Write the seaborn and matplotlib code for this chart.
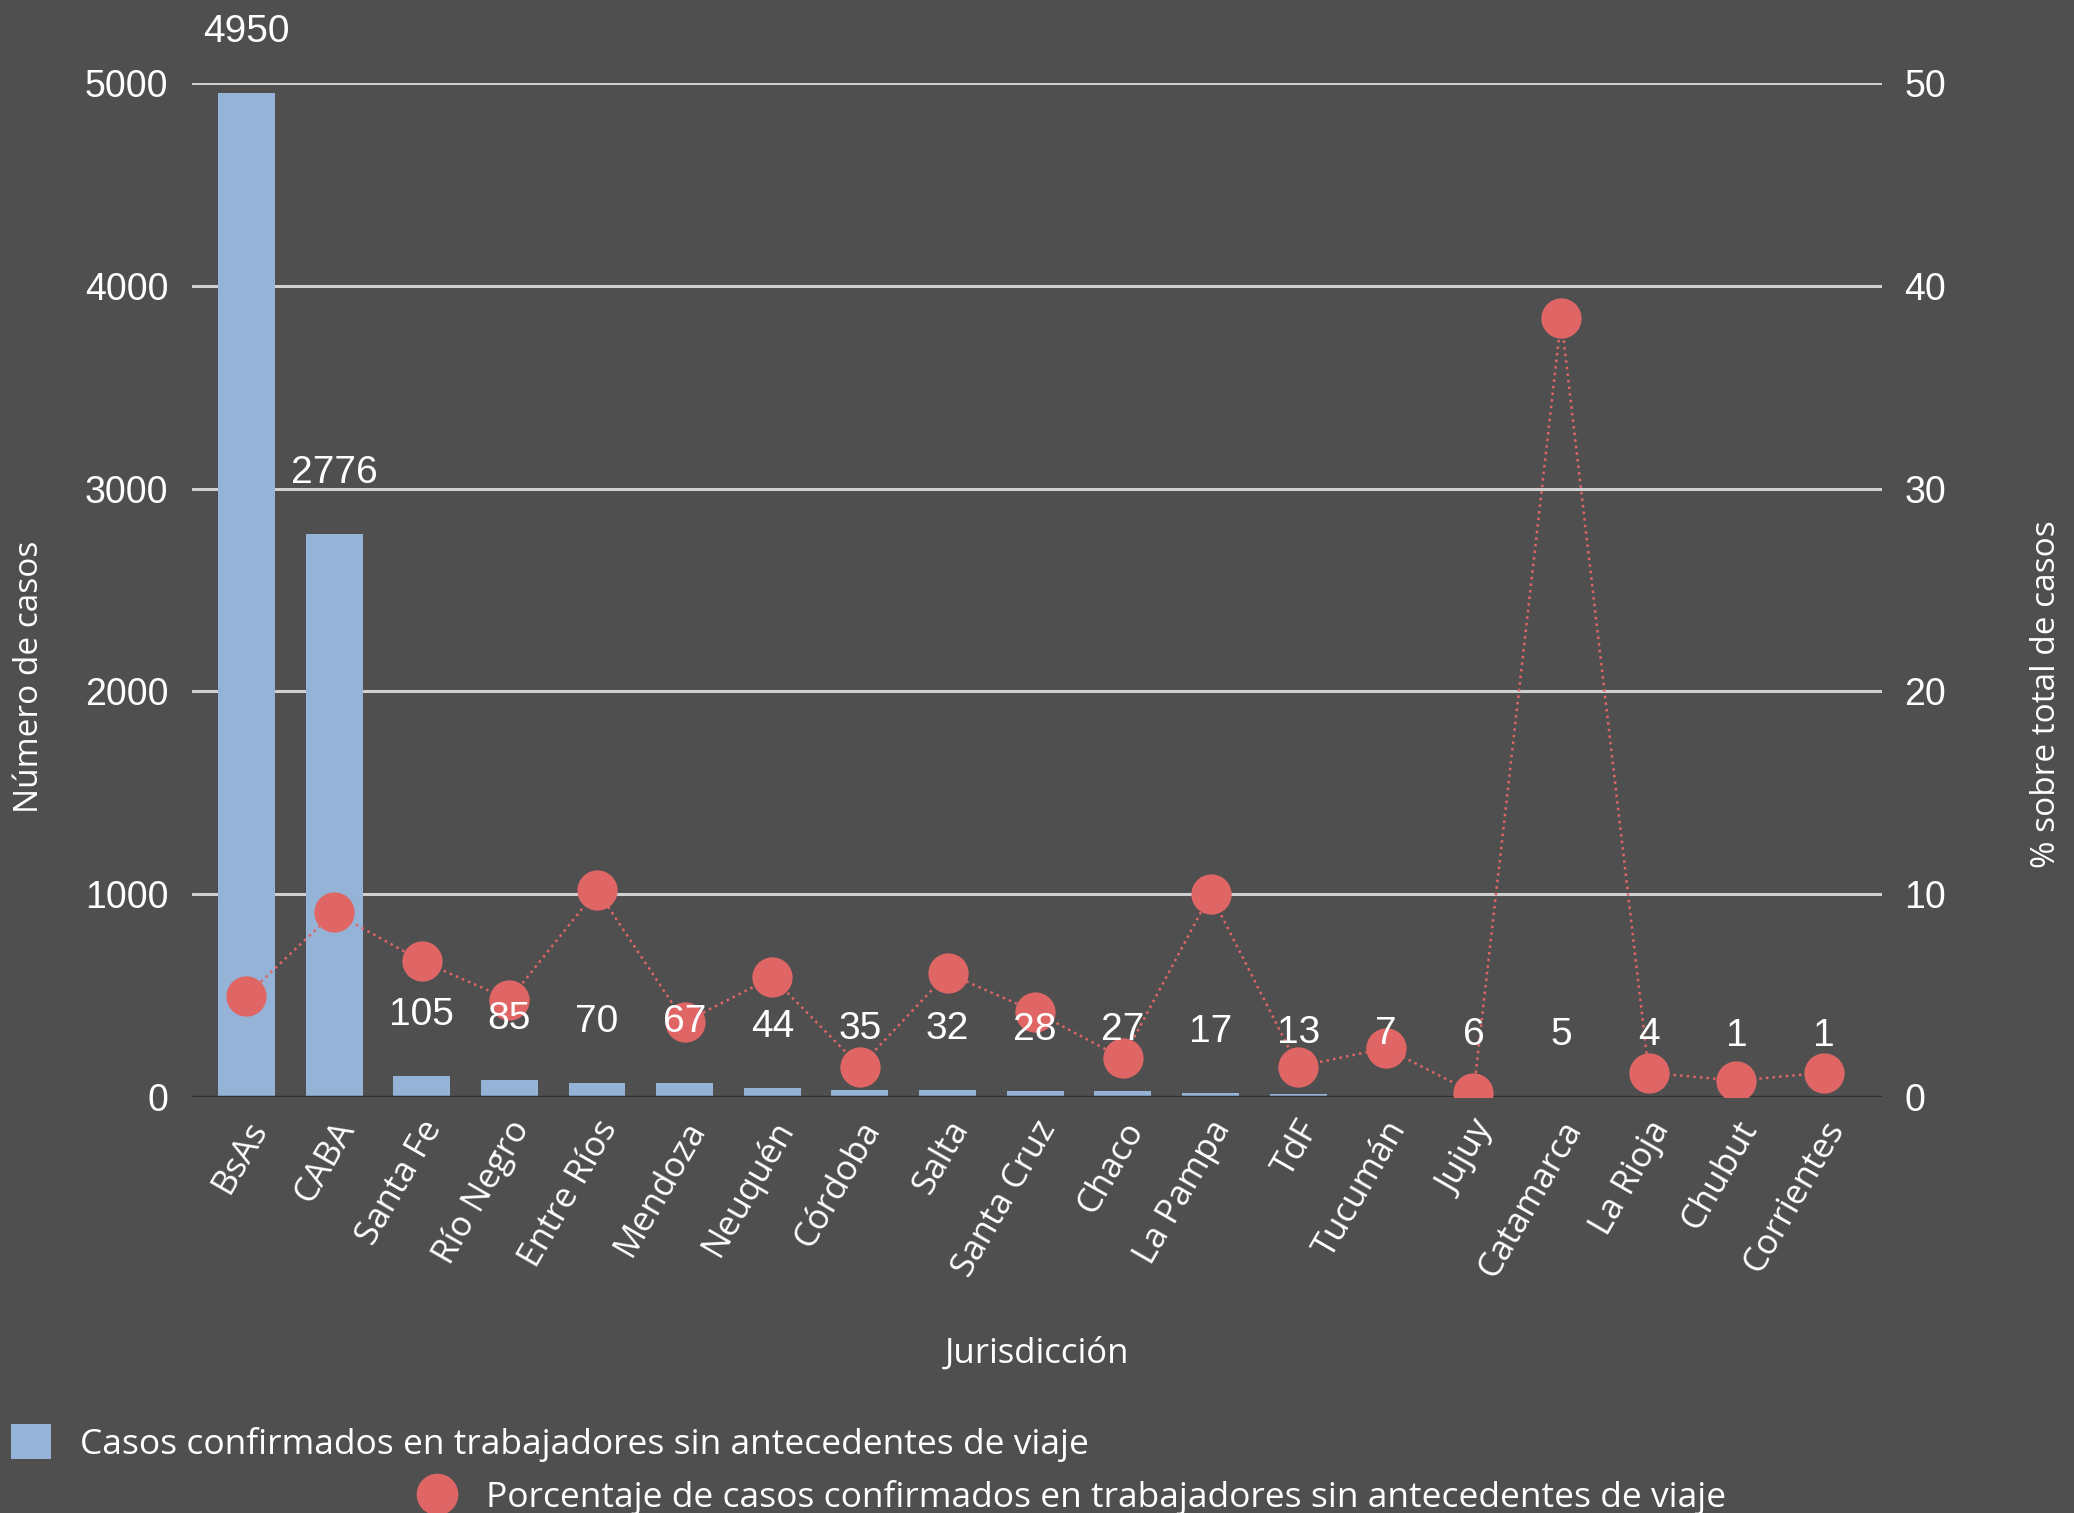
import numpy as np
import pandas as pd
import matplotlib
matplotlib.use("Agg")
import matplotlib.pyplot as plt
import matplotlib.transforms as mtrans
import seaborn as sns
from matplotlib.lines import Line2D
from matplotlib.patches import Patch

# -------------------------------------------------------------------
# Data
# -------------------------------------------------------------------
jurisdicciones = ["BsAs", "CABA", "Santa Fe", "Río Negro", "Entre Ríos", "Mendoza",
                  "Neuquén", "Córdoba", "Salta", "Santa Cruz", "Chaco", "La Pampa",
                  "TdF", "Tucumán", "Jujuy", "Catamarca", "La Rioja", "Chubut",
                  "Corrientes"]
casos = [4950, 2776, 105, 85, 70, 67, 44, 35, 32, 28, 27, 17, 13, 7, 6, 5, 4, 1, 1]
porcentaje = [5.0, 9.1, 6.7, 4.8, 10.2, 3.7, 5.9, 1.5, 6.1, 4.2, 1.9, 10.0,
              1.5, 2.4, 0.2, 38.4, 1.2, 0.8, 1.2]

df = pd.DataFrame({"jur": jurisdicciones, "casos": casos, "pct": porcentaje})
df["pos"] = np.arange(len(df))

BG = "#4f4f4f"
BLUE = "#95b3d7"
RED = "#e06666"
TXT = "white"

sns.set_style("dark")
plt.rcParams["font.family"] = ["Open Sans", "DejaVu Sans"]

fig = plt.figure(figsize=(20.74, 15.13), dpi=100, facecolor=BG)
ax = fig.add_axes([0.0926, 0.275, 0.8148, 0.67])
ax.set_facecolor(BG)

# -------------------------------------------------------------------
# Bars
# -------------------------------------------------------------------
sns.barplot(data=df, x="jur", y="casos", color=BLUE, width=0.65,
            saturation=1, ax=ax, zorder=2, edgecolor="none", linewidth=0)
ax.set_ylim(0, 5000)
ax.set_xlim(-0.62, 18.66)
ax.set_yticks([0, 1000, 2000, 3000, 4000, 5000])
ax.yaxis.grid(True, color="#d0d0d0", linewidth=2.2, zorder=0)
ax.xaxis.grid(False)
ax.axhline(0, color="#2e2e2e", linewidth=2.5, zorder=3)
for s in ax.spines.values():
    s.set_visible(False)

ax.tick_params(axis="y", length=0, pad=17, labelsize=27, labelcolor=TXT)
ax.tick_params(axis="x", length=0, pad=14, labelcolor=TXT)
for lbl in ax.get_yticklabels():
    lbl.set_family("Liberation Sans")
ax.set_xticks(df["pos"])
ax.set_xticklabels(jurisdicciones, rotation=60, ha="right", va="center",
                   rotation_mode="anchor", fontsize=25, color=TXT)
# nudge rotated labels a bit right/down
shift = mtrans.ScaledTranslation(0.13, -0.07, fig.dpi_scale_trans)
for lbl in ax.get_xticklabels():
    lbl.set_transform(lbl.get_transform() + shift)

ax.set_xlabel("Jurisdicción", fontsize=25, color=TXT)
ax.xaxis.set_label_coords(0.5, -0.236)
ax.set_ylabel("Número de casos", fontsize=24, color=TXT)
ax.yaxis.set_label_coords(-0.0864, 0.414)

# -------------------------------------------------------------------
# Percentage line on twin axis
# -------------------------------------------------------------------
ax2 = ax.twinx()
sns.lineplot(data=df, x="pos", y="pct", color=RED, linestyle=":", linewidth=1.8,
             marker="o", markersize=29, markeredgewidth=0, ax=ax2, zorder=4)
ax2.set_ylim(0, 50)
ax2.set_xlim(-0.62, 18.66)
ax2.set_yticks([0, 10, 20, 30, 40, 50])
ax2.grid(False)
for s in ax2.spines.values():
    s.set_visible(False)
ax2.tick_params(axis="y", length=0, pad=16, labelsize=27, labelcolor=TXT)
for lbl in ax2.get_yticklabels():
    lbl.set_family("Liberation Sans")
ax2.set_ylabel("% sobre total de casos", fontsize=24, color=TXT)
ax2.yaxis.set_label_coords(1.0876, 0.397)
ax2.set_xlabel("")

# value labels above bars
for i, v in enumerate(casos):
    ax2.annotate(str(v), xy=(i, v), xycoords=ax.transData, xytext=(0, 44),
                 textcoords="offset points", ha="center", va="center",
                 fontsize=28, color=TXT, family="Liberation Sans", zorder=6)

# -------------------------------------------------------------------
# Legend
# -------------------------------------------------------------------
h_bar = Patch(facecolor=BLUE, edgecolor="none")
h_pt = Line2D([], [], color=RED, marker="o", linestyle="none", markersize=29)
leg1 = fig.legend([h_bar], ["Casos confirmados en trabajadores sin antecedentes de viaje"],
                  loc="center left", bbox_to_anchor=(0.0051, 0.0463), frameon=False,
                  borderpad=0, borderaxespad=0, handlelength=1.15, handleheight=1.15,
                  handletextpad=0.82, fontsize=25.5, labelcolor=TXT)
leg2 = fig.legend([h_pt], ["Porcentaje de casos confirmados en trabajadores sin antecedentes de viaje"],
                  loc="center left", bbox_to_anchor=(0.2009, 0.0105), frameon=False,
                  borderpad=0, borderaxespad=0, handlelength=1.15,
                  handletextpad=0.82, fontsize=25.5, labelcolor=TXT)

fig.savefig("out.png", dpi=100, facecolor=BG)
